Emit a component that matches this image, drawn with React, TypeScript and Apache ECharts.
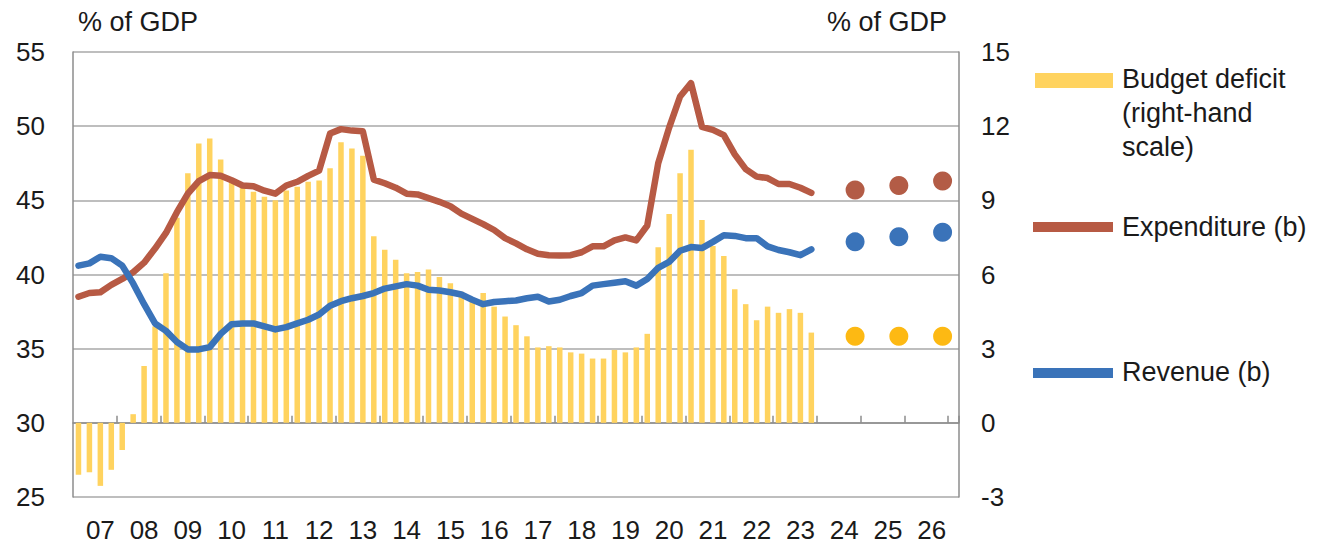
import React, { useEffect, useRef } from "react";
import * as echarts from "echarts";

// Quarterly categories 2007Q1 .. 2027Q1
const years = ["2007","2008","2009","2010","2011","2012","2013","2014","2015","2016","2017","2018","2019","2020","2021","2022","2023","2024","2025","2026","2027"];
const quarterNames = ["Q1", "Q2", "Q3", "Q4"];
const quarters: string[] = years.flatMap((y) => quarterNames.map((q) => y + q)).slice(0, 81);

// Budget deficit, % of GDP (right-hand scale), 2007Q1 .. 2023Q4
const budgetDeficit = [
  -2.1, -2.0, -2.55, -1.9, -1.1, 0.35, 2.3, 3.9, 6.05, 8.3,
  10.1, 11.3, 11.5, 10.65, 9.8, 9.5, 9.35, 9.15, 9.0, 9.4,
  9.55, 9.75, 9.8, 10.3, 11.35, 11.1, 10.8, 7.55, 7.0, 6.6,
  6.05, 6.1, 6.2, 5.9, 5.65, 5.3, 5.0, 5.25, 4.7, 4.3,
  3.95, 3.5, 3.05, 3.1, 3.05, 2.85, 2.8, 2.6, 2.6, 2.95,
  2.85, 3.05, 3.6, 7.1, 8.45, 10.1, 11.05, 8.2, 7.15, 6.75,
  5.4, 4.8, 4.15, 4.7, 4.45, 4.6, 4.45, 3.65,
];

// Expenditure, % of GDP (left-hand scale)
const expenditure = [
  38.5, 38.75, 38.8, 39.3, 39.7, 40.15, 40.8, 41.75, 42.8, 44.2,
  45.45, 46.3, 46.7, 46.65, 46.35, 46.0, 45.95, 45.65, 45.45, 46.0,
  46.25, 46.65, 47.0, 49.5, 49.8, 49.7, 49.65, 46.4, 46.15, 45.85,
  45.45, 45.4, 45.15, 44.9, 44.6, 44.1, 43.75, 43.4, 43.0, 42.45,
  42.1, 41.7, 41.4, 41.3, 41.28, 41.3, 41.5, 41.9, 41.9, 42.3,
  42.5, 42.3, 43.3, 47.5, 49.9, 52.0, 52.9, 49.95, 49.75, 49.4,
  48.1, 47.1, 46.6, 46.5, 46.1, 46.1, 45.85, 45.5,
];

// Revenue, % of GDP (left-hand scale)
const revenue = [
  40.6, 40.75, 41.2, 41.1, 40.6, 39.4, 38.0, 36.7, 36.2, 35.45,
  34.95, 34.95, 35.1, 36.0, 36.65, 36.7, 36.7, 36.5, 36.3, 36.45,
  36.7, 36.95, 37.3, 37.9, 38.2, 38.4, 38.55, 38.75, 39.05, 39.2,
  39.35, 39.25, 38.97, 38.92, 38.8, 38.65, 38.3, 38.0, 38.15, 38.2,
  38.25, 38.4, 38.5, 38.18, 38.3, 38.55, 38.75, 39.25, 39.35, 39.45,
  39.55, 39.25, 39.7, 40.45, 40.85, 41.6, 41.85, 41.78, 42.2, 42.65,
  42.6, 42.45, 42.45, 41.9, 41.65, 41.5, 41.3, 41.7,
];

// Forecasts (shown as dots)
const forecastQuarters = ["2024Q4", "2025Q4", "2026Q4"];
const forecastExpenditure = [45.7, 46.0, 46.3];
const forecastRevenue = [42.2, 42.55, 42.85];
const forecastDeficit = [3.5, 3.5, 3.5];

const BAR = "#FFD35F";
const RED = "#B75A44";
const BLUE = "#3A73B9";
const DOT_RED = "#B35C46";
const DOT_YELLOW = "#FDB913";
const AXIS = "#8C8C8C";
const GRID = "#A8A8A8";
const FONT = "'Liberation Sans', Arial, Helvetica, sans-serif";
const TEXT = "#1A1A1A";

export default function App() {
  const ref = useRef<HTMLDivElement>(null);

  useEffect(() => {
    if (!ref.current) return;
    const chart = echarts.init(ref.current, undefined, { renderer: "svg" });
    const labelStyle = { fontSize: 26, color: TEXT, fontFamily: FONT };
    const titleStyle = { fontSize: 27, color: TEXT, fontFamily: FONT };
    chart.setOption({
      animation: false,
      backgroundColor: "#ffffff",
      textStyle: { fontFamily: FONT },
      grid: { left: 73, right: 360, top: 52, bottom: 49, containLabel: false },
      xAxis: {
        type: "category",
        data: quarters,
        boundaryGap: true,
        axisLine: { show: true, lineStyle: { color: AXIS, width: 1.5 } },
        axisTick: {
          show: true,
          inside: true,
          length: 7,
          interval: (i: number, v: string) => i > 0 && v.endsWith("Q1"),
          lineStyle: { color: AXIS, width: 1.5 },
        },
        axisLabel: {
          ...labelStyle,
          margin: 20,
          interval: (_i: number, v: string) => v.endsWith("Q3"),
          formatter: (v: string) => v.slice(2, 4),
        },
        splitLine: { show: false },
      },
      yAxis: [
        {
          type: "value",
          min: 25,
          max: 55,
          interval: 5,
          position: "left",
          name: "% of GDP",
          nameLocation: "end",
          nameGap: 30,
          nameTextStyle: { ...titleStyle, align: "left", verticalAlign: "middle", padding: [0, 0, 0, 5] },
          axisLine: { show: true, lineStyle: { color: AXIS, width: 1.5 } },
          axisTick: { show: false },
          axisLabel: { ...labelStyle, margin: 28 },
          splitLine: { show: true, lineStyle: { color: GRID, width: 1.5 } },
        },
        {
          type: "value",
          min: -3,
          max: 15,
          interval: 3,
          position: "right",
          name: "% of GDP",
          nameLocation: "end",
          nameGap: 30,
          nameTextStyle: { ...titleStyle, align: "right", verticalAlign: "middle", padding: [0, 12, 0, 0] },
          axisLine: { show: true, lineStyle: { color: AXIS, width: 1.5 } },
          axisTick: { show: false },
          axisLabel: { ...labelStyle, margin: 22 },
          splitLine: { show: false },
        },
      ],
      series: [
        {
          name: "Budget deficit (right-hand scale)",
          type: "bar",
          yAxisIndex: 1,
          data: budgetDeficit,
          barWidth: 5.5,
          itemStyle: { color: BAR },
          z: 1,
        },
        {
          name: "Expenditure (b)",
          type: "line",
          data: expenditure,
          showSymbol: false,
          symbol: "none",
          lineStyle: { color: RED, width: 6.5, join: "round", cap: "round" },
          itemStyle: { color: RED },
          z: 3,
        },
        {
          name: "Revenue (b)",
          type: "line",
          data: revenue,
          showSymbol: false,
          symbol: "none",
          lineStyle: { color: BLUE, width: 6.5, join: "round", cap: "round" },
          itemStyle: { color: BLUE },
          z: 4,
        },
        {
          name: "Expenditure forecast",
          type: "scatter",
          data: forecastQuarters.map((q, i) => [q, forecastExpenditure[i]]),
          symbolSize: 19,
          itemStyle: { color: DOT_RED, opacity: 1 },
          z: 5,
        },
        {
          name: "Revenue forecast",
          type: "scatter",
          data: forecastQuarters.map((q, i) => [q, forecastRevenue[i]]),
          symbolSize: 19,
          itemStyle: { color: BLUE, opacity: 1 },
          z: 5,
        },
        {
          name: "Deficit forecast",
          type: "scatter",
          yAxisIndex: 1,
          data: forecastQuarters.map((q, i) => [q, forecastDeficit[i]]),
          symbolSize: 19,
          itemStyle: { color: DOT_YELLOW, opacity: 1 },
          z: 5,
        },
      ],
      graphic: [
        { type: "rect", left: 1035, top: 73, shape: { width: 78, height: 15 }, style: { fill: BAR } },
        {
          type: "text",
          left: 1122,
          top: 62,
          style: { text: "Budget deficit\n(right-hand\nscale)", font: `27px ${FONT}`, fill: TEXT, lineHeight: 34 },
        },
        { type: "rect", left: 1033, top: 222, shape: { width: 80, height: 10 }, style: { fill: RED } },
        {
          type: "text",
          left: 1122,
          top: 210,
          style: { text: "Expenditure (b)", font: `27px ${FONT}`, fill: TEXT, lineHeight: 34 },
        },
        { type: "rect", left: 1033, top: 368, shape: { width: 80, height: 10 }, style: { fill: BLUE } },
        {
          type: "text",
          left: 1122,
          top: 355,
          style: { text: "Revenue (b)", font: `27px ${FONT}`, fill: TEXT, lineHeight: 34 },
        },
      ],
    });
    return () => chart.dispose();
  }, []);

  return (
    <div
      ref={ref}
      style={{ position: "fixed", left: 0, top: 0, width: 1319, height: 546, background: "#fff" }}
    />
  );
}
